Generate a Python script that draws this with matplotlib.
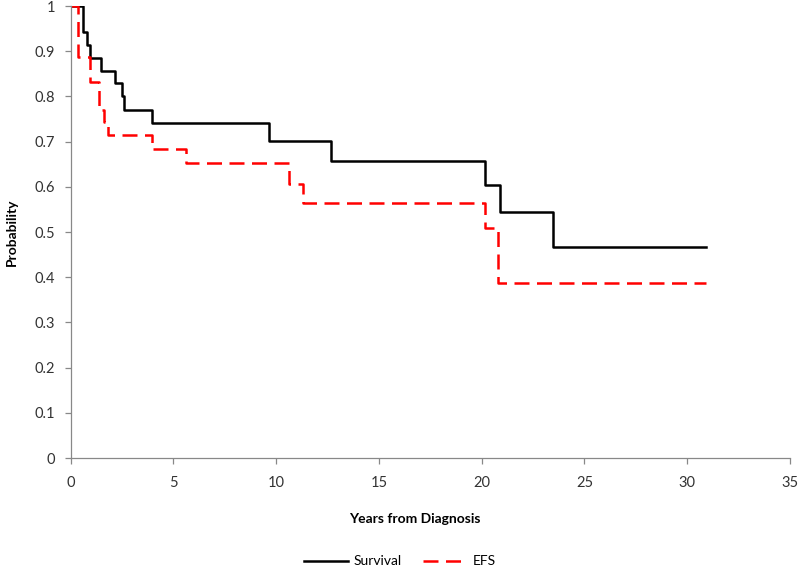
import matplotlib
matplotlib.use("Agg")
import matplotlib.pyplot as plt

# Kaplan-Meier style step data
survival_years = [0, 0.62, 0.79, 0.95, 1.47, 2.16, 2.49, 2.62, 3.98, 9.65, 12.65, 20.15, 20.9, 23.45, 30.93]
survival_prob = [1.0, 0.943, 0.914, 0.886, 0.857, 0.829, 0.800, 0.771, 0.742, 0.702, 0.657, 0.604, 0.544, 0.466, 0.466]

efs_years = [0, 0.35, 0.95, 1.4, 1.62, 1.81, 3.95, 5.6, 10.64, 11.3, 20.15, 20.8, 30.93]
efs_prob = [1.0, 0.888, 0.831, 0.771, 0.743, 0.715, 0.684, 0.653, 0.607, 0.565, 0.508, 0.388, 0.388]

x_ticks = [0, 5, 10, 15, 20, 25, 30, 35]
y_ticks = [0, 0.1, 0.2, 0.3, 0.4, 0.5, 0.6, 0.7, 0.8, 0.9, 1]
y_tick_labels = ["0", "0.1", "0.2", "0.3", "0.4", "0.5", "0.6", "0.7", "0.8", "0.9", "1"]

plt.rcParams['font.family'] = ['Lato', 'DejaVu Sans']

fig = plt.figure(figsize=(8, 5.77), dpi=100)
ax = fig.add_axes([70.5 / 800, 1 - 458 / 577, 719.5 / 800, 452 / 577])

ax.plot(survival_years, survival_prob, drawstyle='steps-post', color='black', lw=1.8,
        label='Survival')
ax.plot(efs_years, efs_prob, drawstyle='steps-post', color='#ff0000', lw=1.8,
        dashes=(6, 3), label='EFS')

ax.set_xlim(0, 35)
ax.set_ylim(0, 1)
ax.set_xticks(x_ticks)
ax.set_yticks(y_ticks)
ax.set_yticklabels(y_tick_labels)

for side in ['top', 'right']:
  ax.spines[side].set_visible(False)
for side in ['left', 'bottom']:
  ax.spines[side].set_color('#888888')
  ax.spines[side].set_linewidth(0.9)

ax.tick_params(axis='both', direction='out', length=4, width=0.9, color='#888888',
               labelsize=10.5, labelcolor='#333333')
ax.tick_params(axis='y', pad=7)
ax.tick_params(axis='x', pad=9)

ax.set_xlabel('Years from Diagnosis', fontsize=10, fontweight='bold', color='black')
ax.xaxis.set_label_coords(0.479, -0.122)
ax.set_ylabel('Probability', fontsize=10, fontweight='bold', color='black')
ax.yaxis.set_label_coords(-0.073, 0.5)

fig.legend(loc='lower center', bbox_to_anchor=(0.5, -0.005), ncol=2, frameon=False,
           fontsize=10, handlelength=3.2, columnspacing=1.5, handletextpad=0.4)

fig.savefig('out.png', dpi=100)
